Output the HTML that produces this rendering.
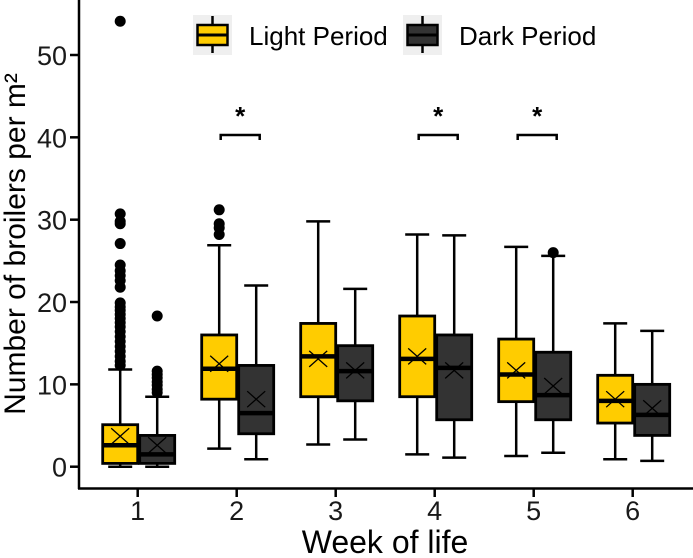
<!DOCTYPE html>
<html><head><meta charset="utf-8"><style>
html,body{margin:0;padding:0;background:#fff;}
svg{display:block;font-family:"Liberation Sans",Arial,sans-serif;}
</style></head><body>
<svg id="chart" width="693" height="558" viewBox="0 0 693 558" xmlns="http://www.w3.org/2000/svg">
<g id="axes"></g>
<g id="marks"></g>
<g id="legend">
  <rect x="193" y="15" width="39" height="40" fill="#efefef"/>
  <line x1="212.5" y1="16" x2="212.5" y2="53" stroke="#000" stroke-width="2.5"/>
  <rect x="197.5" y="25" width="30" height="20" fill="#FFCC00" stroke="#000" stroke-width="2.5"/>
  <line x1="197.5" y1="35" x2="227.5" y2="35" stroke="#000" stroke-width="3"/>
  <text x="249" y="45" font-size="26">Light Period</text>
  <rect x="403" y="15" width="39" height="40" fill="#efefef"/>
  <line x1="422.5" y1="16" x2="422.5" y2="53" stroke="#000" stroke-width="2.5"/>
  <rect x="407.5" y="25" width="30" height="20" fill="#333333" stroke="#000" stroke-width="2.5"/>
  <line x1="407.5" y1="35" x2="437.5" y2="35" stroke="#000" stroke-width="3"/>
  <text x="459" y="45" font-size="26">Dark Period</text>
</g>
</svg>
<script>
const weeks = ["1","2","3","4","5","6"];
const yTicks = [0,10,20,30,40,50];
// [low whisker, q1, median, q3, high whisker, mean]
const lightStats = [[0,0.4,2.6,5.1,11.8,3.7],[2.2,8.2,11.9,16.0,26.9,12.5],[2.7,8.5,13.4,17.4,29.8,13.1],[1.5,8.5,13.1,18.3,28.2,13.4],[1.3,7.9,11.2,15.5,26.7,11.7],[0.9,5.3,8.0,11.1,17.4,8.2]];
const darkStats = [[0,0.4,1.5,3.8,8.5,2.6],[0.9,4.0,6.5,12.3,22.0,8.2],[3.3,8.0,11.6,14.7,21.6,11.7],[1.1,5.7,12.0,16.0,28.1,11.7],[1.7,5.7,8.7,13.9,25.6,9.8],[0.7,3.8,6.3,10.0,16.5,7.1]];
const lightOutliers = [[54.1,30.7,29.8,29.5,27.1,24.5,23.8,23.2,22.6,21.8,19.9,19.4,19.0,18.5,18.0,17.5,17.0,16.4,15.8,15.2,14.6,14.0,13.4,12.8,12.3],[31.2,29.5,29.0,28.2],[],[],[],[]];
const darkOutliers = [[18.3,11.6,11.2,10.8,10.3,9.9,9.4,9.0],[],[],[],[26.0],[]];
const sigWeeks = [1,3,4]; // indices with significance
const NS='http://www.w3.org/2000/svg';
function y(v){return 466.7 - v*8.234;}
function x(i){return 137.7 + i*99;}
function el(tag,attrs,parent){const e=document.createElementNS(NS,tag);for(const k in attrs)e.setAttribute(k,attrs[k]);parent.appendChild(e);return e;}
const axes=document.getElementById('axes'), marks=document.getElementById('marks');
let a=el('line',{x1:79,y1:0,x2:79,y2:489,stroke:'#000','stroke-width':2.5},axes);


a=el('line',{x1:78,y1:488.5,x2:693,y2:488.5,stroke:'#000','stroke-width':2.5},axes);


yTicks.forEach(t=>{
  el('line',{x1:70,y1:y(t),x2:79,y2:y(t),stroke:'#000','stroke-width':2.5},axes);
  const tx=el('text',{x:67,y:y(t)+10,'font-size':27,'text-anchor':'end',fill:'#1a1a1a'},axes);
  tx.textContent=t;
  
  
});
weeks.forEach((w,i)=>{
  el('line',{x1:x(i),y1:488,x2:x(i),y2:497,stroke:'#000','stroke-width':2.5},axes);
  const tx=el('text',{x:x(i),y:520,'font-size':27,'text-anchor':'middle',fill:'#1a1a1a'},axes);
  tx.textContent=w;
  
  
});
let t=el('text',{x:385,y:553,'font-size':32,'text-anchor':'middle'},axes);
t.textContent='Week of life';


t=el('text',{x:0,y:0,'font-size':30,'text-anchor':'middle',transform:'translate(25,244) rotate(-90)'},axes);
t.textContent='Number of broilers per m²';


function drawBox(cx,s,fill,outs,name){
  const g=el('g',{},marks);
  
  
  const hw=17.5;
  el('line',{x1:cx,y1:y(s[4]),x2:cx,y2:y(s[0]),stroke:'#000','stroke-width':2.5},g);
  el('line',{x1:cx-12,y1:y(s[4]),x2:cx+12,y2:y(s[4]),stroke:'#000','stroke-width':2.5},g);
  el('line',{x1:cx-12,y1:y(s[0]),x2:cx+12,y2:y(s[0]),stroke:'#000','stroke-width':2.5},g);
  el('rect',{x:cx-hw,y:y(s[3]),width:2*hw,height:y(s[1])-y(s[3]),fill:fill,stroke:'#000','stroke-width':2.8},g);
  el('line',{x1:cx-hw,y1:y(s[2]),x2:cx+hw,y2:y(s[2]),stroke:'#000','stroke-width':4.5},g);
  const m=y(s[5]);
  el('path',{d:`M${cx-9} ${m-8}L${cx+9} ${m+8}M${cx-9} ${m+8}L${cx+9} ${m-8}`,stroke:'#000','stroke-width':1.3},g);
  outs.forEach(o=>{const c=el('circle',{cx:cx,cy:y(o),r:5.5,fill:'#000'},g);
    
    });
}
weeks.forEach((w,i)=>{
  drawBox(x(i)-17.5,lightStats[i],'#FFCC00',lightOutliers[i],'box-light-week-'+w);
  drawBox(x(i)+19.5,darkStats[i],'#333333',darkOutliers[i],'box-dark-week-'+w);
});
sigWeeks.forEach(i=>{
  const g=el('g',{},marks);
  
  
  const x1=x(i)-16, x2=x(i)+23, yy=135;
  el('path',{d:`M${x1} ${yy+5}V${yy}H${x2}V${yy+5}`,fill:'none',stroke:'#000','stroke-width':2.5},g);
  const s=el('text',{x:(x1+x2)/2,y:125,'font-size':26,'font-weight':'bold','text-anchor':'middle'},g);
  s.textContent='*';
});
</script>
</body></html>
